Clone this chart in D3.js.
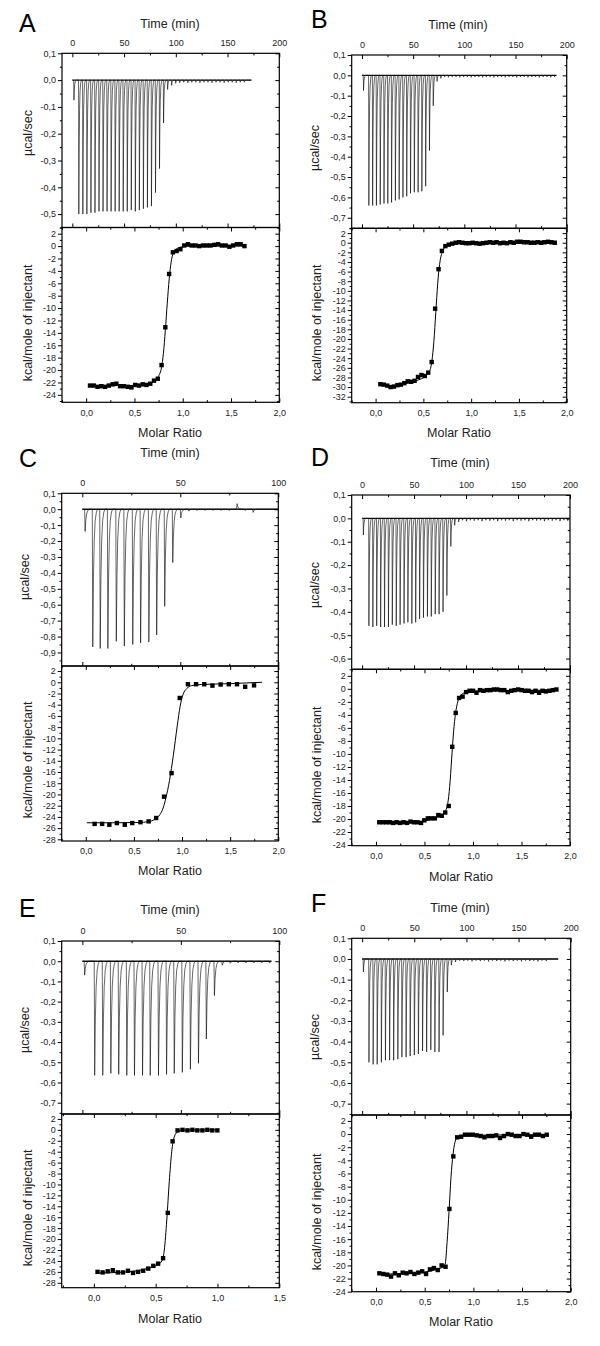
<!DOCTYPE html>
<html>
<head>
<meta charset="utf-8">
<script src="https://cdn.jsdelivr.net/npm/d3@7"></script>
<style>
  body { margin: 0; background: #fff; }
</style>
</head>
<body>
<div id="graph"></div>
<script>
// ---- raw thermograms: injection time (min) and peak minimum (µcal/sec) ----
var aTimes = [1.3, 6.0, 9.9, 13.8, 17.7, 21.6, 25.5, 29.4, 33.3, 37.2, 41.1, 45.0, 48.9, 52.8, 56.7, 60.6, 64.5, 68.4, 72.3, 76.2, 80.1, 84.0, 87.9, 91.8, 95.7, 99.6, 103.5, 107.4, 111.3, 115.2, 119.1, 123.0, 126.9, 130.8, 134.7, 138.6, 142.5, 146.4, 150.3, 154.2, 158.1, 162.0, 165.9]
var aPeaks = [-0.075, -0.50, -0.50, -0.50, -0.495, -0.495, -0.49, -0.49, -0.49, -0.49, -0.49, -0.49, -0.49, -0.49, -0.485, -0.49, -0.485, -0.48, -0.475, -0.47, -0.42, -0.33, -0.16, -0.035, -0.02, -0.012, -0.01, -0.008, -0.01, -0.008, -0.008, -0.01, -0.008, -0.008, -0.01, -0.008, -0.008, -0.01, -0.008, -0.008, -0.01, -0.008, -0.008]

var bTimes = [1.3, 6.5, 10.2, 13.9, 17.6, 21.3, 25.0, 28.7, 32.4, 36.1, 39.8, 43.5, 47.2, 50.9, 54.6, 58.3, 62.0, 65.7, 69.4, 73.1, 76.8, 80.5, 84.2, 87.9, 91.6, 95.3, 99.0, 102.7, 106.4, 110.1, 113.8, 117.5, 121.2, 124.9, 128.6, 132.3, 136.0, 139.7, 143.4, 147.1, 150.8, 154.5, 158.2, 161.9, 165.6, 169.3, 173.0, 176.7, 180.4, 184.1, 187.8]
var bPeaks = [-0.075, -0.64, -0.64, -0.64, -0.635, -0.63, -0.63, -0.625, -0.615, -0.61, -0.60, -0.595, -0.58, -0.575, -0.575, -0.57, -0.545, -0.37, -0.15, -0.03, -0.015, -0.008, -0.01, -0.008, -0.008, -0.01, -0.008, -0.008, -0.01, -0.008, -0.008, -0.01, -0.008, -0.008, -0.01, -0.008, -0.008, -0.01, -0.008, -0.008, -0.01, -0.008, -0.008, -0.01, -0.008, -0.008, -0.01, -0.008, -0.008, -0.01, -0.008]

var cTimes = [1.2, 5.1, 8.9, 12.8, 17.1, 21.2, 25.5, 29.5, 33.7, 37.7, 41.8, 45.9, 50.0, 54.1, 58.2, 62.3, 66.4, 70.5, 74.6, 78.7, 82.8, 86.9]
var cPeaks = [-0.14, -0.865, -0.875, -0.875, -0.83, -0.86, -0.85, -0.84, -0.835, -0.79, -0.61, -0.335, -0.055, -0.012, -0.008, -0.008, -0.008, -0.008, -0.008, 0.035, -0.008, -0.02]

var dTimes = [1.0, 6.3, 10.1, 13.8, 17.6, 21.3, 25.1, 28.8, 32.6, 36.3, 40.1, 43.8, 47.6, 51.3, 55.1, 58.8, 62.6, 66.3, 70.1, 73.8, 77.6, 81.3, 85.1, 88.8, 92.6, 96.3, 100.1, 103.8, 107.6, 111.3, 115.1, 118.8, 122.6, 126.3, 130.1, 133.8, 137.6, 141.3, 145.1, 148.8, 152.6, 156.3, 160.1, 163.8, 167.6, 171.3, 175.1, 178.8, 182.6, 186.3, 190.1, 193.8, 197.6]
var dPeaks = [-0.071, -0.46, -0.465, -0.46, -0.465, -0.465, -0.465, -0.455, -0.46, -0.455, -0.45, -0.445, -0.45, -0.445, -0.43, -0.425, -0.42, -0.42, -0.41, -0.41, -0.40, -0.33, -0.12, -0.03, -0.015, -0.008, -0.012, -0.008, -0.01, -0.008, -0.012, -0.008, -0.01, -0.008, -0.012, -0.008, -0.01, -0.008, -0.012, -0.008, -0.01, -0.008, -0.012, -0.008, -0.01, -0.008, -0.012, -0.008, -0.01, -0.008, -0.012, -0.008, -0.01]

var eTimes = [0.9, 6.0, 10.1, 14.2, 18.2, 22.3, 26.2, 30.3, 34.2, 38.4, 42.5, 46.4, 50.5, 54.6, 58.7, 62.7, 66.8, 70.8, 74.8, 78.8, 82.8, 86.8, 90.8, 94.8]
var ePeaks = [-0.069, -0.565, -0.565, -0.555, -0.56, -0.565, -0.565, -0.565, -0.565, -0.565, -0.56, -0.555, -0.55, -0.535, -0.505, -0.385, -0.17, -0.02, -0.01, -0.008, -0.008, -0.008, -0.008, -0.008]

var fTimes = [1.0, 6.3, 10.3, 14.2, 18.2, 22.1, 26.1, 30.0, 34.0, 37.9, 41.9, 45.8, 49.8, 53.7, 57.7, 61.6, 65.6, 69.5, 73.5, 77.4, 81.4, 85.3, 89.3, 93.2, 97.2, 101.1, 105.1, 109.0, 113.0, 116.9, 120.9, 124.8, 128.8, 132.7, 136.7, 140.6, 144.6, 148.5, 152.5, 156.4, 160.4, 164.3, 168.3, 172.2, 176.2]
var fPeaks = [-0.063, -0.50, -0.51, -0.51, -0.50, -0.49, -0.49, -0.49, -0.485, -0.475, -0.475, -0.47, -0.465, -0.46, -0.445, -0.45, -0.44, -0.45, -0.45, -0.37, -0.16, -0.03, -0.015, -0.008, -0.01, -0.008, -0.012, -0.008, -0.01, -0.008, -0.012, -0.008, -0.01, -0.008, -0.012, -0.008, -0.01, -0.008, -0.012, -0.008, -0.01, -0.008, -0.012, -0.008, -0.01]

// time at which each recording stops (min)
var traceEnds = [173, 190, 100, 200, 96, 188]

// ---- integrated heats: molar ratio and kcal/mole of injectant ----
var aRatio = [0.04, 0.079, 0.118, 0.157, 0.196, 0.235, 0.274, 0.313, 0.352, 0.391, 0.43, 0.469, 0.508, 0.547, 0.586, 0.625, 0.664, 0.703, 0.742, 0.781, 0.82, 0.859, 0.898, 0.937, 0.976, 1.015, 1.054, 1.093, 1.132, 1.171, 1.21, 1.249, 1.288, 1.327, 1.366, 1.405, 1.444, 1.483, 1.522, 1.561, 1.6, 1.639]
var aHeat = [-22.5, -22.5, -22.7, -22.6, -22.7, -22.5, -22.3, -22.2, -22.6, -22.6, -22.7, -22.8, -22.4, -22.5, -22.3, -22.4, -22.2, -21.7, -21.4, -19.2, -13.1, -4.5, -1.0, -0.8, -0.5, 0.1, 0.3, 0.1, 0.1, 0.0, 0.1, 0.1, 0.1, 0.2, 0.3, 0.1, 0.1, -0.1, 0.1, 0.3, 0.3, 0.0]
var aFitX = [0.04, 0.4, 0.6, 0.7, 0.75, 0.78, 0.8, 0.82, 0.84, 0.86, 0.88, 0.9, 0.94, 1.0, 1.1, 1.64]
var aFitY = [-22.5, -22.5, -22.35, -21.9, -21.0, -19.6, -17.3, -13.6, -9.2, -5.3, -2.6, -1.2, -0.4, -0.1, 0.0, 0.05]

var bRatio = [0.05, 0.086, 0.122, 0.157, 0.193, 0.229, 0.265, 0.301, 0.336, 0.372, 0.408, 0.444, 0.48, 0.515, 0.551, 0.587, 0.623, 0.659, 0.694, 0.73, 0.766, 0.802, 0.838, 0.873, 0.909, 0.945, 0.981, 1.017, 1.052, 1.088, 1.124, 1.16, 1.196, 1.231, 1.267, 1.303, 1.339, 1.375, 1.41, 1.446, 1.482, 1.518, 1.554, 1.589, 1.625, 1.661, 1.697, 1.733, 1.768, 1.804, 1.84, 1.876]
var bHeat = [-29.4, -29.5, -29.7, -30.0, -29.9, -29.6, -29.5, -29.2, -28.8, -28.9, -28.7, -27.9, -27.5, -27.7, -27.0, -24.8, -13.7, -5.5, -1.7, -0.7, -0.4, -0.2, 0.0, 0.1, 0.0, -0.1, -0.1, 0.0, -0.1, -0.2, -0.1, 0.0, 0.1, 0.0, 0.1, -0.1, 0.0, -0.1, 0.1, 0.0, 0.2, 0.2, 0.1, 0.1, 0.0, 0.0, 0.1, 0.0, 0.1, 0.2, 0.1, 0.0]
var bFitX = [0.05, 0.15, 0.25, 0.35, 0.45, 0.52, 0.56, 0.59, 0.61, 0.63, 0.65, 0.67, 0.7, 0.74, 0.8, 0.9, 1.88]
var bFitY = [-29.6, -29.7, -29.5, -29.1, -28.5, -27.8, -26.9, -24.5, -20.5, -14.5, -8.5, -4.5, -1.8, -0.7, -0.25, -0.05, 0.05]

var cRatio = [0.092, 0.17, 0.245, 0.323, 0.405, 0.483, 0.568, 0.653, 0.731, 0.813, 0.891, 0.976, 1.061, 1.146, 1.231, 1.316, 1.401, 1.486, 1.571, 1.656, 1.748]
var cHeat = [-25.25, -25.25, -25.4, -25.1, -25.4, -25.1, -24.95, -24.8, -24.2, -20.4, -16.2, -2.8, -0.35, -0.35, -0.35, -0.6, -0.4, -0.35, -0.35, -0.8, -0.55]
var cFitX = [0.01, 0.3, 0.55, 0.65, 0.72, 0.77, 0.8, 0.83, 0.87, 0.91, 0.95, 0.98, 1.01, 1.05, 1.1, 1.2, 1.5, 1.83]
var cFitY = [-25.05, -25.05, -25.0, -24.85, -24.4, -23.6, -22.6, -20.8, -17.5, -13.0, -7.8, -4.3, -2.2, -1.1, -0.6, -0.4, -0.25, 0.0]

var dRatio = [0.034, 0.07, 0.106, 0.141, 0.177, 0.213, 0.249, 0.285, 0.32, 0.356, 0.392, 0.428, 0.464, 0.499, 0.535, 0.571, 0.607, 0.643, 0.678, 0.714, 0.75, 0.786, 0.822, 0.857, 0.893, 0.929, 0.965, 1.001, 1.036, 1.072, 1.108, 1.144, 1.18, 1.215, 1.251, 1.287, 1.323, 1.359, 1.394, 1.43, 1.466, 1.502, 1.538, 1.573, 1.609, 1.645, 1.681, 1.717, 1.752, 1.788, 1.824, 1.86]
var dHeat = [-20.5, -20.5, -20.5, -20.5, -20.6, -20.5, -20.6, -20.5, -20.6, -20.4, -20.5, -20.5, -20.6, -20.2, -19.9, -19.9, -19.9, -19.4, -19.5, -19.0, -18.0, -8.9, -3.7, -1.4, -1.2, -0.5, -0.3, -0.3, -0.6, -0.2, -0.3, -0.2, -0.2, -0.1, -0.1, -0.2, -0.2, -0.5, -0.3, -0.2, -0.1, -0.2, -0.3, -0.3, -0.5, -0.3, -0.6, -0.3, -0.4, -0.3, -0.2, -0.1]
var dFitX = [0.03, 0.4, 0.5, 0.6, 0.67, 0.71, 0.74, 0.76, 0.78, 0.8, 0.82, 0.845, 0.88, 0.95, 1.1, 1.86]
var dFitY = [-20.55, -20.5, -20.3, -19.9, -19.5, -18.9, -17.6, -15.0, -10.8, -6.6, -3.8, -1.9, -0.9, -0.45, -0.3, -0.2]

var eRatio = [0.03, 0.071, 0.112, 0.153, 0.194, 0.235, 0.276, 0.317, 0.358, 0.399, 0.44, 0.481, 0.52, 0.56, 0.598, 0.637, 0.677, 0.717, 0.757, 0.797, 0.837, 0.878, 0.918, 0.958, 0.999]
var eHeat = [-26.0, -26.1, -25.9, -25.7, -26.1, -26.1, -25.8, -26.2, -26.0, -25.8, -25.4, -24.9, -24.5, -23.5, -15.2, -2.1, -0.1, 0.0, -0.1, 0.0, -0.1, -0.1, 0.0, -0.1, -0.1]
var eFitX = [0.03, 0.2, 0.35, 0.45, 0.51, 0.55, 0.57, 0.59, 0.61, 0.63, 0.65, 0.68, 0.72, 1.0]
var eFitY = [-26.2, -26.1, -25.8, -25.3, -24.8, -24.0, -22.0, -16.5, -9.5, -4.0, -1.3, -0.3, -0.05, 0.0]

var fRatio = [0.034, 0.074, 0.114, 0.154, 0.194, 0.234, 0.274, 0.314, 0.354, 0.394, 0.434, 0.474, 0.514, 0.554, 0.594, 0.634, 0.674, 0.714, 0.754, 0.794, 0.834, 0.874, 0.914, 0.954, 0.994, 1.034, 1.074, 1.114, 1.154, 1.194, 1.234, 1.274, 1.314, 1.354, 1.394, 1.434, 1.474, 1.514, 1.554, 1.594, 1.634, 1.674, 1.714, 1.754]
var fHeat = [-21.2, -21.3, -21.4, -21.7, -21.2, -21.5, -21.1, -21.2, -21.0, -21.3, -21.1, -20.9, -21.3, -20.6, -20.4, -20.7, -20.0, -20.2, -11.4, -3.4, -0.5, -0.4, -0.1, -0.1, -0.1, -0.2, -0.3, -0.5, -0.3, -0.3, -0.2, -0.6, -0.3, 0.0, -0.1, -0.3, -0.3, 0.0, -0.1, -0.4, -0.1, -0.1, -0.3, -0.1]
var fFitX = [0.034, 0.3, 0.5, 0.6, 0.68, 0.71, 0.73, 0.75, 0.77, 0.79, 0.81, 0.84, 0.9, 1.76]
var fFitY = [-21.35, -21.2, -21.0, -20.7, -20.3, -19.8, -16.5, -11.8, -6.6, -3.2, -1.3, -0.4, -0.2, -0.1]

// ---- tick labels ----
var timeTicks200 = [0, 50, 100, 150, 200]
var timeTicks100 = [0, 50, 100]
var ratioTicks20 = [0, 0.5, 1, 1.5, 2]
var ratioTicks15 = [0, 0.5, 1, 1.5]
var powerTicks5 = [0.1, 0, -0.1, -0.2, -0.3, -0.4, -0.5]
var powerTicks6 = [0.1, 0, -0.1, -0.2, -0.3, -0.4, -0.5, -0.6]
var powerTicks7 = [0.1, 0, -0.1, -0.2, -0.3, -0.4, -0.5, -0.6, -0.7]
var powerTicks9 = [0.1, 0, -0.1, -0.2, -0.3, -0.4, -0.5, -0.6, -0.7, -0.8, -0.9]
var heatTicks24 = [2, 0, -2, -4, -6, -8, -10, -12, -14, -16, -18, -20, -22, -24]
var heatTicks28 = [2, 0, -2, -4, -6, -8, -10, -12, -14, -16, -18, -20, -22, -24, -26, -28]
var heatTicks32 = [2, 0, -2, -4, -6, -8, -10, -12, -14, -16, -18, -20, -22, -24, -26, -28, -30, -32]

var panelLetters = ['A', 'B', 'C', 'D', 'E', 'F']

// ---- layout (pixels) ----
var panels = [
  { times: aTimes, peaks: aPeaks, ratio: aRatio, heat: aHeat, fitX: aFitX, fitY: aFitY,
    timeTicks: timeTicks200, ratioTicks: ratioTicks20, powerTicks: powerTicks5, heatTicks: heatTicks24,
    box: [62, 279.3, 53.3, 227.5, 402.3], time: [-10, 200], power: [-0.55, 0.1], ratioDom: [-0.25, 2], heatDom: [-25.2, 3],
    letter: [19, 32], timeTitle: [170, 28], ratioTitle: [170, 437], powerTitle: [28, 133], heatTitle: [28, 323] },
  { times: bTimes, peaks: bPeaks, ratio: bRatio, heat: bHeat, fitX: bFitX, fitY: bFitY,
    timeTicks: timeTicks200, ratioTicks: ratioTicks20, powerTicks: powerTicks7, heatTicks: heatTicks32,
    box: [351.7, 566.7, 55, 228.3, 402.7], time: [-10, 200], power: [-0.752, 0.1], ratioDom: [-0.25, 2], heatDom: [-33.25, 3],
    letter: [311, 28], timeTitle: [458, 29], ratioTitle: [459, 437], powerTitle: [315, 148], heatTitle: [317, 323] },
  { times: cTimes, peaks: cPeaks, ratio: cRatio, heat: cHeat, fitX: cFitX, fitY: cFitY,
    timeTicks: timeTicks100, ratioTicks: ratioTicks20, powerTicks: powerTicks9, heatTicks: heatTicks28,
    box: [61.7, 278.3, 493.3, 666, 841], time: [-10.5, 100], power: [-0.985, 0.1], ratioDom: [-0.25, 2], heatDom: [-28.3, 2.9],
    letter: [19, 467], timeTitle: [170, 457], ratioTitle: [170, 875], powerTitle: [25, 577], heatTitle: [28, 760] },
  { times: dTimes, peaks: dPeaks, ratio: dRatio, heat: dHeat, fitX: dFitX, fitY: dFitY,
    timeTicks: timeTicks200, ratioTicks: ratioTicks20, powerTicks: powerTicks6, heatTicks: heatTicks24,
    box: [351.7, 570, 495, 669.3, 845.7], time: [-10, 200], power: [-0.646, 0.1], ratioDom: [-0.25, 2], heatDom: [-24.1, 3],
    letter: [311, 466], timeTitle: [460, 467], ratioTitle: [461, 881], powerTitle: [315, 585], heatTitle: [317, 765] },
  { times: eTimes, peaks: ePeaks, ratio: eRatio, heat: eHeat, fitX: eFitX, fitY: eFitY,
    timeTicks: timeTicks100, ratioTicks: ratioTicks15, powerTicks: powerTicks7, heatTicks: heatTicks28,
    box: [61.7, 279.3, 941, 1114, 1287.7], time: [-10.5, 100], power: [-0.756, 0.1], ratioDom: [-0.26, 1.5], heatDom: [-28.9, 2.9],
    letter: [19, 917], timeTitle: [170, 914], ratioTitle: [170, 1323], powerTitle: [25, 1030], heatTitle: [28, 1208] },
  { times: fTimes, peaks: fPeaks, ratio: fRatio, heat: fHeat, fitX: fFitX, fitY: fFitY,
    timeTicks: timeTicks200, ratioTicks: ratioTicks20, powerTicks: powerTicks7, heatTicks: heatTicks24,
    box: [351.7, 570.7, 938.3, 1115, 1291.7], time: [-10, 200], power: [-0.755, 0.1], ratioDom: [-0.25, 2], heatDom: [-24, 2.9],
    letter: [311, 912], timeTitle: [460, 912], ratioTitle: [461, 1326], powerTitle: [315, 1037], heatTitle: [317, 1212] },
]

var FONT = 'Arial, "Liberation Sans", sans-serif'

// shape of one injection peak: minutes after injection, fraction of the peak minimum
var peakShape = [[0, 0], [0.25, 1], [0.6, 0.5], [1.0, 0.22], [1.5, 0.08], [2.1, 0.02], [2.7, 0]]

var comma = d => d3.format('.1f')(d).replace('.', ',').replace('\u2212', '-')
var whole = d => d3.format('d')(d).replace('\u2212', '-')

var svg = d3
  .select('#graph')
  .append('svg')
  .attr('width', 600)
  .attr('height', 1346)

svg.append('rect').attr('width', 600).attr('height', 1346).attr('fill', '#fff')

function minorTicks(ticks, scale) {
  var step = Math.abs(ticks[1] - ticks[0])
  var dom = scale.domain()
  var lo = Math.min(dom[0], dom[1]) - 1e-9
  var hi = Math.max(dom[0], dom[1]) + 1e-9
  var out = []
  ticks.forEach(function(t) {
    ;[t - step / 2, t + step / 2].forEach(function(m) {
      m = +m.toFixed(4)
      if (m >= lo && m <= hi && out.indexOf(m) < 0 && ticks.every(v => Math.abs(v - m) > 1e-6)) out.push(m)
    })
  })
  return out
}

function drawAxis(g, axisFn, scale, ticks, fmt, size, pad, tx, ty) {
  var a = g.append('g').attr('transform', 'translate(' + tx + ',' + ty + ')')
  a.call(axisFn(scale).tickValues(ticks).tickSize(size).tickPadding(pad).tickFormat(fmt || ''))
  a.append('g').call(axisFn(scale).tickValues(minorTicks(ticks, scale)).tickSize(size * 0.55).tickFormat(''))
  a.selectAll('.domain').remove()
  a.selectAll('line').attr('stroke', '#000').attr('stroke-width', 1)
  a.selectAll('text')
    .attr('font-size', 9)
    .attr('font-family', FONT)
    .attr('fill', '#222')
}

function thermogram(times, peaks, end) {
  var pts = [[0, 0]]
  times.forEach(function(t, i) {
    peakShape.forEach(function(s) {
      pts.push([t + s[0], peaks[i] * s[1]])
    })
  })
  pts.push([end, 0])
  return pts.filter(d => d[0] <= end)
}

panels.forEach(function(p, i) {
  var left = p.box[0], right = p.box[1], top = p.box[2], mid = p.box[3], bottom = p.box[4]
  var g = svg.append('g')

  var xt = d3.scaleLinear().domain(p.time).range([left, right])
  var yp = d3.scaleLinear().domain(p.power).range([mid, top])
  var xr = d3.scaleLinear().domain(p.ratioDom).range([left, right])
  var yh = d3.scaleLinear().domain(p.heatDom).range([bottom, mid])

  // thermogram
  var trace = thermogram(p.times, p.peaks, traceEnds[i])
  g.append('path')
    .datum(trace)
    .attr('fill', 'none')
    .attr('stroke', '#000')
    .attr('stroke-width', 0.6)
    .attr('d', d3.line().x(d => xt(d[0])).y(d => yp(d[1])))
  g.append('path')
    .datum([[0, 0], [traceEnds[i], 0]])
    .attr('fill', 'none')
    .attr('stroke', '#111')
    .attr('stroke-width', 1.4)
    .attr('d', d3.line().x(d => xt(d[0])).y(d => yp(d[1])))

  // fit curve and integrated heats
  var fit = p.fitX.map((x, k) => [x, p.fitY[k]])
  g.append('path')
    .datum(fit)
    .attr('fill', 'none')
    .attr('stroke', '#000')
    .attr('stroke-width', 1)
    .attr('d', d3.line().curve(d3.curveMonotoneX).x(d => xr(d[0])).y(d => yh(d[1])))

  var pts = p.ratio.map((x, k) => [x, p.heat[k]])
  g.selectAll('.pt')
    .data(pts)
    .enter()
    .append('rect')
    .attr('x', d => xr(d[0]) - 2.2)
    .attr('y', d => yh(d[1]) - 2.2)
    .attr('width', 4.4)
    .attr('height', 4.4)
    .attr('fill', '#000')

  // frames
  g.append('rect')
    .attr('x', left).attr('y', top).attr('width', right - left).attr('height', mid - top)
    .attr('fill', 'none').attr('stroke', '#000').attr('stroke-width', 1.2)
  g.append('rect')
    .attr('x', left).attr('y', mid).attr('width', right - left).attr('height', bottom - mid)
    .attr('fill', 'none').attr('stroke', '#000').attr('stroke-width', 1.2)

  // axes
  drawAxis(g, d3.axisTop, xt, p.timeTicks, whole, -4, 7, 0, top)
  drawAxis(g, d3.axisBottom, xt, p.timeTicks, null, -4, 3, 0, mid)
  drawAxis(g, d3.axisLeft, yp, p.powerTicks, comma, 4, 2, left, 0)
  drawAxis(g, d3.axisRight, yp, p.powerTicks, null, -4, 3, right, 0)
  drawAxis(g, d3.axisTop, xr, p.ratioTicks, null, -4, 3, 0, mid)
  drawAxis(g, d3.axisBottom, xr, p.ratioTicks, comma, -4, 7, 0, bottom)
  drawAxis(g, d3.axisLeft, yh, p.heatTicks, whole, 4, 2, left, 0)
  drawAxis(g, d3.axisRight, yh, p.heatTicks, null, -4, 3, right, 0)

  // titles
  g.append('text')
    .attr('x', p.letter[0]).attr('y', p.letter[1])
    .attr('font-family', FONT).attr('font-size', 25)
    .text(panelLetters[i])
  g.append('text')
    .attr('x', p.timeTitle[0]).attr('y', p.timeTitle[1])
    .attr('text-anchor', 'middle')
    .attr('font-family', FONT).attr('font-size', 12.5).attr('fill', '#222')
    .text('Time (min)')
  g.append('text')
    .attr('x', p.ratioTitle[0]).attr('y', p.ratioTitle[1])
    .attr('text-anchor', 'middle')
    .attr('font-family', FONT).attr('font-size', 12.5).attr('fill', '#222')
    .text('Molar Ratio')
  g.append('text')
    .attr('transform', 'translate(' + p.powerTitle[0] + ',' + p.powerTitle[1] + ') rotate(-90)')
    .attr('text-anchor', 'middle').attr('dy', '0.35em')
    .attr('font-family', FONT).attr('font-size', 12.5).attr('fill', '#222')
    .text('\u00b5cal/sec')
  g.append('text')
    .attr('transform', 'translate(' + p.heatTitle[0] + ',' + p.heatTitle[1] + ') rotate(-90)')
    .attr('text-anchor', 'middle').attr('dy', '0.35em')
    .attr('font-family', FONT).attr('font-size', 12.5).attr('fill', '#222')
    .text('kcal/mole of injectant')
})
</script>
</body>
</html>
